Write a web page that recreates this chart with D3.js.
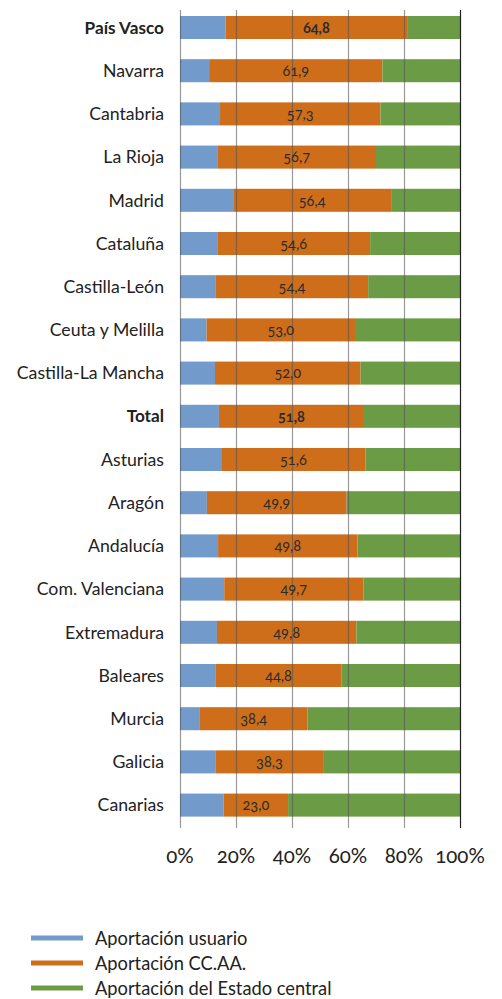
<!DOCTYPE html>
<html>
<head>
<meta charset="utf-8">
<script src="https://cdn.jsdelivr.net/npm/d3@7"></script>
<style>
  body { margin: 0; background: #fff; }
  svg { display: block; font-family: Lato, "Open Sans", sans-serif; }
  .num { font-variant-numeric: oldstyle-nums; }
</style>
</head>
<body>
<div id="chart"></div>
<script>
// regions, top to bottom
var regions = ["País Vasco", "Navarra", "Cantabria", "La Rioja", "Madrid", "Cataluña",
  "Castilla-León", "Ceuta y Melilla", "Castilla-La Mancha", "Total", "Asturias", "Aragón",
  "Andalucía", "Com. Valenciana", "Extremadura", "Baleares", "Murcia", "Galicia", "Canarias"];
var usuario = [16.3, 10.4, 14.3, 13.3, 19.0, 13.3, 12.8, 9.5, 12.5, 13.9, 14.7, 9.6,
  13.6, 15.8, 13.2, 12.8, 7.1, 12.8, 15.6];
var ccaa = [64.8, 61.9, 57.3, 56.7, 56.4, 54.6, 54.4, 53.0, 52.0, 51.8, 51.6, 49.9,
  49.8, 49.7, 49.8, 44.8, 38.4, 38.3, 23.0];
var boldRows = ["País Vasco", "Total"];
var ticks = [0, 20, 40, 60, 80, 100];

var seriesNames = ["Aportación usuario", "Aportación CC.AA.", "Aportación del Estado central"];
var colors = ["#729ACA", "#CE6E1B", "#6C9B45"];

var W = 502, H = 999;
var svg = d3.select("#chart").append("svg").attr("width", W).attr("height", H);

var rows = regions.map(function(r, i) {
  return { name: r, u: usuario[i], c: ccaa[i], e: 100 - usuario[i] - ccaa[i] };
});

var x = d3.scaleLinear().domain([0, 100]).range([180, 460]);
var y = d3.scaleBand().domain(regions).range([5.9, 826.7])
  .paddingInner(0.467).paddingOuter(0.2335);

var stack = d3.stack().keys(["u", "c", "e"])(rows);

svg.append("g").selectAll("g")
    .data(stack)
  .enter().append("g")
    .attr("fill", function(d, i) { return colors[i]; })
  .selectAll("rect")
    .data(function(d) { return d; })
  .enter().append("rect")
    .attr("x", function(d) { return x(d[0]); })
    .attr("width", function(d) { return x(d[1]) - x(d[0]); })
    .attr("y", function(d) { return y(d.data.name); })
    .attr("height", y.bandwidth());

// gridlines on top of the bars
svg.append("g").selectAll("line")
    .data(ticks)
  .enter().append("line")
    .attr("x1", function(d) { return x(d) + 0.5; })
    .attr("x2", function(d) { return x(d) + 0.5; })
    .attr("y1", 10)
    .attr("y2", 828)
    .attr("stroke", function(d) { return d == 100 ? "#222" : "#555"; })
    .attr("stroke-opacity", function(d) { return d == 100 ? 1 : 0.6; })
    .attr("stroke-width", 1.2);

// value labels in the CC.AA. segment
svg.append("g").selectAll("text")
    .data(rows)
  .enter().append("text")
    .attr("class", "num")
    .attr("x", function(d) { return x(d.u + d.c / 2); })
    .attr("y", function(d) { return y(d.name) + y.bandwidth() / 2; })
    .attr("dy", "0.36em")
    .attr("text-anchor", "middle")
    .attr("font-size", 14.5)
    .attr("font-weight", function(d) { return boldRows.indexOf(d.name) >= 0 ? "bold" : "normal"; })
    .attr("fill", "#2b2b2b")
    .text(function(d) { return d.c.toFixed(1).replace(".", ","); });

// category labels
svg.append("g").selectAll("text")
    .data(rows)
  .enter().append("text")
    .attr("x", 164)
    .attr("y", function(d) { return y(d.name) + y.bandwidth() / 2; })
    .attr("dy", "0.36em")
    .attr("text-anchor", "end")
    .attr("font-size", function(d) { return boldRows.indexOf(d.name) >= 0 ? 17.2 : 17.7; })
    .attr("font-weight", function(d) { return boldRows.indexOf(d.name) >= 0 ? "bold" : "normal"; })
    .attr("fill", "#222")
    .text(function(d) { return d.name; });

// x tick labels
svg.append("g").selectAll("text")
    .data(ticks)
  .enter().append("text")
    .attr("class", "num")
    .attr("x", function(d) { return x(d); })
    .attr("y", 856)
    .attr("dy", "0.36em")
    .attr("text-anchor", "middle")
    .attr("font-size", 20.5)
    .attr("fill", "#222")
    .text(function(d) { return d + "%"; });

// legend
var leg = svg.append("g").selectAll("g")
    .data(seriesNames)
  .enter().append("g")
    .attr("transform", function(d, i) { return "translate(31," + (938 + i * 25) + ")"; });

leg.append("line")
    .attr("x1", 0).attr("x2", 52)
    .attr("stroke", function(d, i) { return colors[i]; })
    .attr("stroke-width", 5);

leg.append("text")
    .attr("x", 64)
    .attr("dy", "0.36em")
    .attr("font-size", 18.3)
    .attr("fill", "#222")
    .text(function(d) { return d; });
</script>
</body>
</html>
